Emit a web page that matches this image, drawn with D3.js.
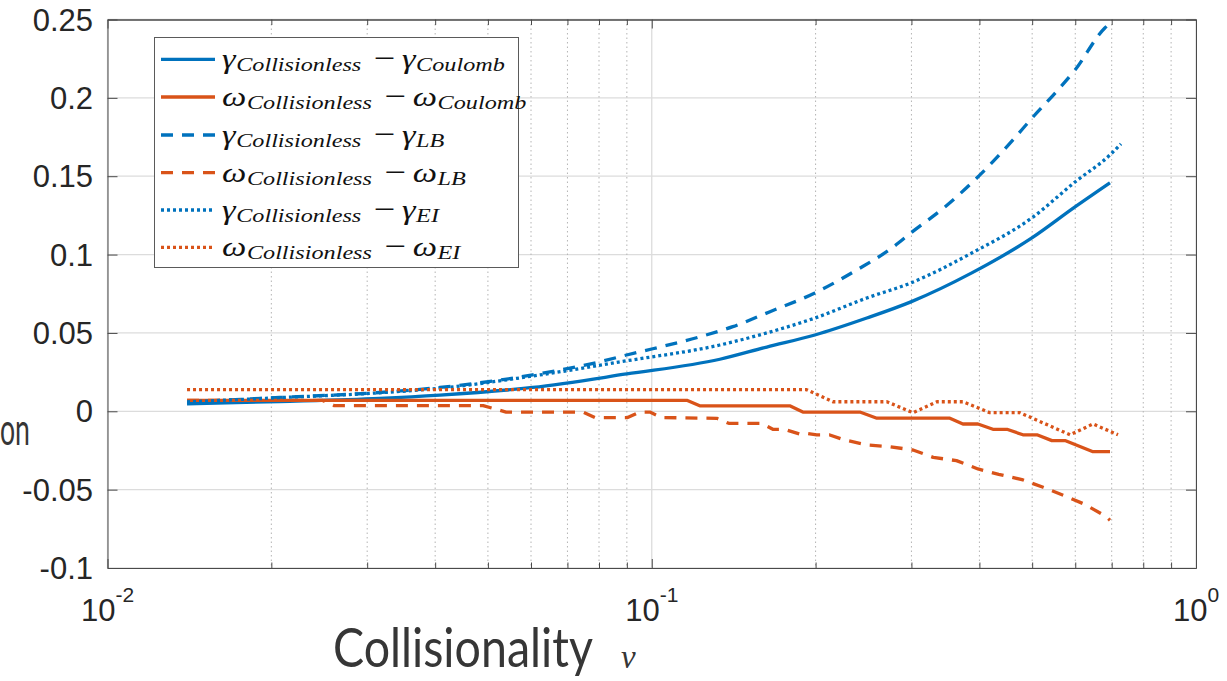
<!DOCTYPE html>
<html>
<head>
<meta charset="utf-8">
<script src="https://cdn.jsdelivr.net/npm/d3@7"></script>
<style>
  html, body { margin: 0; padding: 0; background: #fff; }
  svg { display: block; }
</style>
</head>
<body>
<svg id="chart" width="1227" height="681"></svg>
<script>
// ---- axis ticks ----
const xMajorTicks = [0.01, 0.1, 1];
const xMajorExponents = ["-2", "-1", "0"];
const xMinorTicks = [0.02, 0.03, 0.04, 0.05, 0.06, 0.07, 0.08, 0.09, 0.2, 0.3, 0.4, 0.5, 0.6, 0.7, 0.8, 0.9];
const yTicks = [-0.1, -0.05, 0, 0.05, 0.1, 0.15, 0.2, 0.25];
const yTickLabels = ["-0.1", "-0.05", "0", "0.05", "0.1", "0.15", "0.2", "0.25"];

// ---- growth-rate differences (gamma) ----
const gammaNu = [0.014, 0.0207, 0.0316, 0.0408, 0.0604, 0.0899, 0.1334, 0.1627, 0.1994, 0.2484, 0.2993, 0.3873, 0.4994, 0.5994, 0.695];
const gammaCoulomb = [0.0047, 0.0062, 0.0082, 0.0103, 0.0152, 0.0238, 0.0332, 0.041, 0.0487, 0.0595, 0.0698, 0.0883, 0.1106, 0.1304, 0.1458];

const gammaLBNu = [0.014, 0.0207, 0.0316, 0.0408, 0.0604, 0.0803, 0.0899, 0.1225, 0.1409, 0.1645, 0.1994, 0.2382, 0.2762, 0.2993, 0.3456, 0.3992, 0.461, 0.4994, 0.5575, 0.5994, 0.68, 0.695];
const gammaLB = [0.006, 0.0088, 0.012, 0.0152, 0.0232, 0.0316, 0.0359, 0.0475, 0.054, 0.0634, 0.0755, 0.0902, 0.1042, 0.1138, 0.1304, 0.1502, 0.1732, 0.187, 0.205, 0.2178, 0.2446, 0.2475];

const gammaEINu = [0.014, 0.0207, 0.0316, 0.0408, 0.0604, 0.0899, 0.1334, 0.1627, 0.1994, 0.2484, 0.2993, 0.3873, 0.4994, 0.5994, 0.695, 0.728];
const gammaEI = [0.006, 0.0087, 0.0118, 0.0147, 0.0225, 0.0322, 0.0423, 0.05, 0.0595, 0.0723, 0.0819, 0.101, 0.1234, 0.1463, 0.1636, 0.1706];

// ---- frequency differences (omega) ----
const omegaCoulombNu = [0.014, 0.116, 0.1225, 0.1793, 0.1895, 0.2412, 0.2592, 0.353, 0.373, 0.3975, 0.4235, 0.4494, 0.4808, 0.5102, 0.5436, 0.5745, 0.6468, 0.695];
const omegaCoulomb = [0.007, 0.007, 0.0035, 0.0035, -0.0005, -0.0005, -0.0044, -0.0044, -0.0081, -0.0081, -0.0115, -0.0115, -0.015, -0.015, -0.0187, -0.0187, -0.0258, -0.0258];

const omegaLBNu = [0.014, 0.0248, 0.0261, 0.049, 0.054, 0.0747, 0.0786, 0.0903, 0.095, 0.0992, 0.1043, 0.1317, 0.1385, 0.1593, 0.1669, 0.1752, 0.187, 0.193, 0.201, 0.2124, 0.226, 0.249, 0.274, 0.302, 0.329, 0.363, 0.3975, 0.434, 0.481, 0.5237, 0.5745, 0.624, 0.684, 0.695];
const omegaLB = [0.007, 0.007, 0.0036, 0.0036, -0.0005, -0.0005, -0.004, -0.004, -0.0005, -0.0005, -0.004, -0.0045, -0.0077, -0.0077, -0.0115, -0.0115, -0.0145, -0.0142, -0.0151, -0.0151, -0.0183, -0.0215, -0.0226, -0.0247, -0.0294, -0.0315, -0.0368, -0.0402, -0.0438, -0.0485, -0.054, -0.0593, -0.0672, -0.0695];

const omegaEINu = [0.014, 0.1925, 0.2151, 0.2704, 0.3018, 0.3342, 0.373, 0.4181, 0.4748, 0.5868, 0.6468, 0.7189];
const omegaEI = [0.0138, 0.0138, 0.0061, 0.0061, -0.0009, 0.0061, 0.0061, -0.0009, -0.0009, -0.015, -0.0081, -0.015];

// ---- legend text pieces ----
const legendSymbols = ["γ", "ω", "γ", "ω", "γ", "ω"];
const legendRefs = ["Coulomb", "Coulomb", "LB", "LB", "EI", "EI"];
const legendBase = "Collisionless";

// ---- styling ----
const BLUE = "#0072BD";
const ORANGE = "#D95319";
const DASH = "12,9";
const DOT = "3,3";
const LW = 3.3;

const series = [
  { nu: gammaNu, v: gammaCoulomb, color: BLUE, dash: null, smooth: true },
  { nu: omegaCoulombNu, v: omegaCoulomb, color: ORANGE, dash: null, smooth: false },
  { nu: gammaLBNu, v: gammaLB, color: BLUE, dash: DASH, smooth: true },
  { nu: omegaLBNu, v: omegaLB, color: ORANGE, dash: DASH, smooth: false },
  { nu: gammaEINu, v: gammaEI, color: BLUE, dash: DOT, smooth: true },
  { nu: omegaEINu, v: omegaEI, color: ORANGE, dash: DOT, smooth: false }
];

const svg = d3.select("#chart");
const plotL = 107.5, plotR = 1196, plotT = 19.5, plotB = 568;

const x = d3.scaleLog().domain([0.01, 1]).range([plotL, plotR]);
const y = d3.scaleLinear().domain([-0.1, 0.25]).range([plotB, plotT]);

// ---- grid ----
const grid = svg.append("g");
grid.append("g").selectAll("line").data(yTicks).join("line")
  .attr("x1", plotL).attr("x2", plotR)
  .attr("y1", d => y(d)).attr("y2", d => y(d))
  .attr("stroke", "#dcdcdc").attr("stroke-width", 1.3);
grid.append("g").selectAll("line").data(xMajorTicks).join("line")
  .attr("x1", d => x(d)).attr("x2", d => x(d))
  .attr("y1", plotT).attr("y2", plotB)
  .attr("stroke", "#dcdcdc").attr("stroke-width", 1.3);
grid.append("g").selectAll("line").data(xMinorTicks).join("line")
  .attr("x1", d => x(d)).attr("x2", d => x(d))
  .attr("y1", plotT).attr("y2", plotB)
  .attr("stroke", "#b4b4b4").attr("stroke-width", 1)
  .attr("stroke-dasharray", "1.5,3");

// ---- axes (box with inward ticks) ----
const axisColor = "#4a4a4a";
function styleAxis(g) {
  g.selectAll("path.domain").attr("stroke", axisColor).attr("stroke-width", 1);
  g.selectAll(".tick line").attr("stroke", axisColor).attr("stroke-width", 1);
  g.selectAll(".tick text").remove();
}
svg.append("g").attr("transform", `translate(0,${plotB})`)
  .call(d3.axisBottom(x).tickValues(xMajorTicks).tickSize(-9).tickSizeOuter(0).tickFormat(""))
  .call(styleAxis);
svg.append("g").attr("transform", `translate(0,${plotB})`)
  .call(d3.axisBottom(x).tickValues(xMinorTicks).tickSize(-5.5).tickSizeOuter(0).tickFormat(""))
  .call(styleAxis);
svg.append("g").attr("transform", `translate(0,${plotT})`)
  .call(d3.axisTop(x).tickValues(xMajorTicks).tickSize(-9).tickSizeOuter(0).tickFormat(""))
  .call(styleAxis);
svg.append("g").attr("transform", `translate(0,${plotT})`)
  .call(d3.axisTop(x).tickValues(xMinorTicks).tickSize(-5.5).tickSizeOuter(0).tickFormat(""))
  .call(styleAxis);
svg.append("g").attr("transform", `translate(${plotL},0)`)
  .call(d3.axisLeft(y).tickValues(yTicks).tickSize(-10).tickSizeOuter(0).tickFormat(""))
  .call(styleAxis);
svg.append("g").attr("transform", `translate(${plotR},0)`)
  .call(d3.axisRight(y).tickValues(yTicks).tickSize(-10).tickSizeOuter(0).tickFormat(""))
  .call(styleAxis);

// ---- tick labels ----
const tickFont = "'Liberation Sans', Arial, Helvetica, sans-serif";
svg.append("g").selectAll("text").data(yTicks).join("text")
  .attr("x", 93).attr("y", d => y(d) + 11)
  .attr("text-anchor", "end")
  .attr("font-family", tickFont).attr("font-size", 31).attr("fill", "#262626")
  .text((d, i) => yTickLabels[i]);

const xl = svg.append("g").selectAll("text").data(xMajorTicks).join("text")
  .attr("x", d => x(d)).attr("y", 621)
  .attr("text-anchor", "middle")
  .attr("font-family", tickFont).attr("fill", "#262626");
xl.append("tspan").attr("font-size", 31).text("10");
xl.append("tspan").attr("font-size", 21).attr("dy", -19).text((d, i) => xMajorExponents[i]);

// ---- data lines ----
const plot = svg.append("g");
series.forEach(s => {
  const line = d3.line()
    .x(d => x(d[0])).y(d => y(d[1]))
    .curve(s.smooth ? d3.curveMonotoneX : d3.curveLinear);
  plot.append("path")
    .datum(s.nu.map((n, i) => [n, s.v[i]]))
    .attr("d", line)
    .attr("fill", "none")
    .attr("stroke", s.color)
    .attr("stroke-width", LW)
    .attr("stroke-linejoin", "round")
    .attr("stroke-dasharray", s.dash);
});

// ---- legend ----
const lg = svg.append("g");
lg.append("rect")
  .attr("x", 154.5).attr("y", 37.5).attr("width", 364).attr("height", 230)
  .attr("fill", "#fff").attr("stroke", "#5a5a5a").attr("stroke-width", 1);

const rowY = [59.3, 97, 135, 172.6, 210, 247.4];
const mathFont = "'Liberation Serif', 'Times New Roman', serif";
const labelGroups = [];
series.forEach((s, i) => {
  lg.append("line")
    .attr("x1", 161).attr("x2", 215)
    .attr("y1", rowY[i]).attr("y2", rowY[i])
    .attr("stroke", s.color).attr("stroke-width", LW)
    .attr("stroke-dasharray", s.dash);
  const g = lg.append("g").attr("transform", `translate(222,${rowY[i]})`);
  const t = g.append("text")
    .attr("font-family", mathFont).attr("font-style", "italic").attr("fill", "#111");
  t.append("tspan").attr("x", 0).attr("y", 9).attr("font-size", 27).text(legendSymbols[i]);
  t.append("tspan").attr("y", 12).attr("font-size", 19).attr("dx", 0.5).text(legendBase);
  t.append("tspan").attr("y", 9).attr("font-size", 30).attr("font-style", "normal").attr("dx", 10).text("−");
  t.append("tspan").attr("y", 9).attr("font-size", 27).attr("dx", 5).text(legendSymbols[i]);
  t.append("tspan").attr("y", 12).attr("font-size", 19).attr("dx", 0.5).text(legendRefs[i]);
  labelGroups.push({ g, t });
});
// widen the math labels so the first entry spans its row
const b0 = labelGroups[0].t.node().getBBox();
const k = b0.width > 0 ? 283 / (b0.x + b0.width) : 1.2;
labelGroups.forEach(({ g }, i) => g.attr("transform", `translate(222,${rowY[i]}) scale(${k},1)`));

// ---- axis titles (narrowed horizontally to a target width) ----
function narrowText(str, x0, y0, size, targetWidth) {
  const g = svg.append("g");
  const t = g.append("text")
    .attr("x", 0).attr("y", 0)
    .attr("font-family", "Lato, 'Open Sans', sans-serif").attr("font-size", size)
    .attr("fill", "#363636")
    .text(str);
  const w = t.node().getComputedTextLength();
  const sx = w > 0 ? targetWidth / w : 1;
  g.attr("transform", `translate(${x0},${y0}) scale(${sx},1)`);
}
narrowText("Collisionality", 333, 667, 54, 260);
svg.append("text")
  .attr("x", 621).attr("y", 668)
  .attr("font-family", mathFont).attr("font-style", "italic").attr("font-size", 33)
  .attr("fill", "#363636")
  .text("ν");
narrowText("on", 0, 445, 44, 30);
</script>
</body>
</html>
